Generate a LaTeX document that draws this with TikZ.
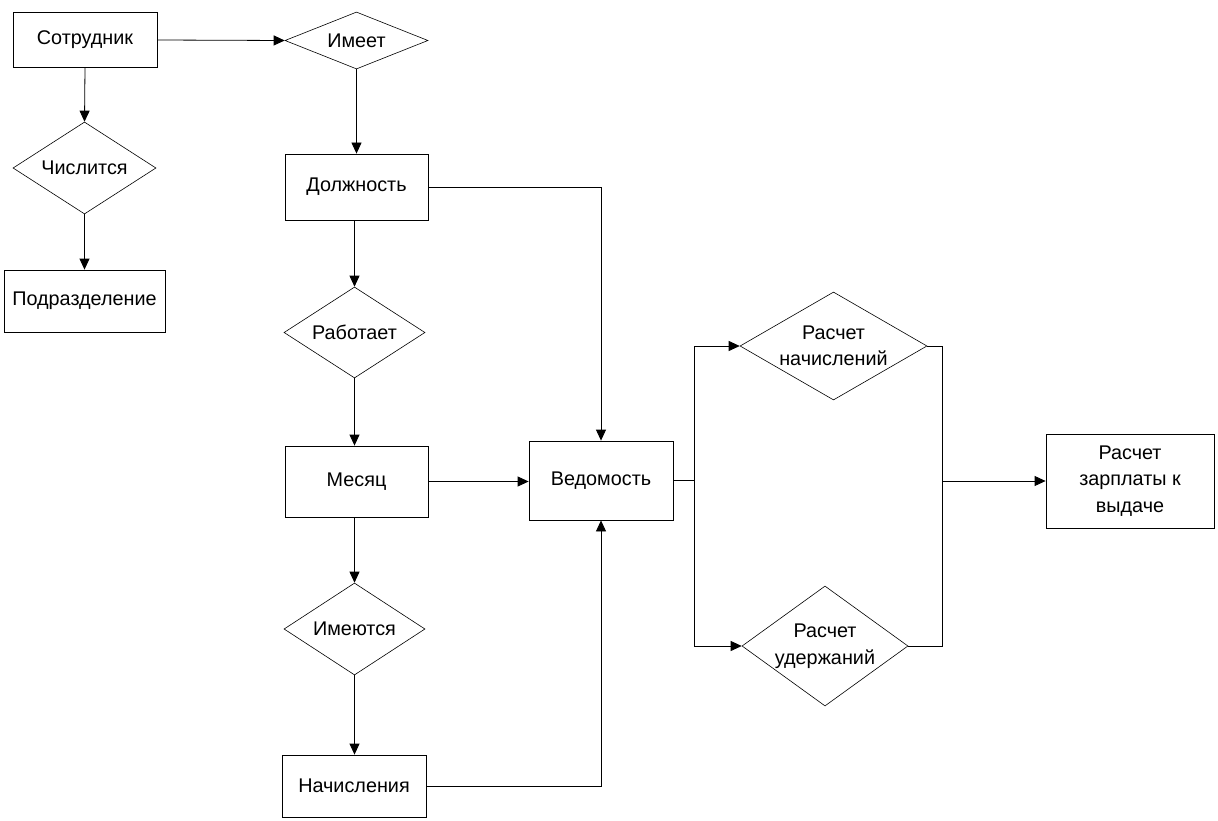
\documentclass[tikz,border=0pt]{standalone}
\usepackage{fontspec}
\setmainfont{Liberation Sans}
\usetikzlibrary{shapes.geometric,arrows.meta}
\begin{document}
\begin{tikzpicture}[x=1pt,y=-1pt,
  every node/.style={font=\fontsize{19.8}{26.5}\selectfont, align=center, inner sep=0pt},
  ent/.style={draw, rectangle, line width=0.8pt},
  rel/.style={draw, diamond, line width=0.6pt, inner sep=-8pt},
  conn/.style={line width=0.8pt},
  arr/.style={conn, -{Triangle[length=11pt,width=10pt]}}]
\useasboundingbox (0,0) rectangle (1218,821);
\node[ent, minimum width=144pt, minimum height=55pt] (sotr) at (85,40) {Сотрудник};
\node[rel, minimum width=143pt, minimum height=57pt, aspect=2.5] (imeet) at (356.5,40.5) {Имеет};
\node[rel, minimum width=143pt, minimum height=92pt, aspect=1.55] (chisl) at (84.5,168) {Числится};
\node[ent, minimum width=161pt, minimum height=62pt] (podr) at (84.5,301) {Подразделение};
\node[ent, minimum width=143pt, minimum height=66pt] (dolzh) at (356.5,187) {Должность};
\node[rel, minimum width=141pt, minimum height=91pt, aspect=1.55] (rabot) at (354.5,332.5) {Работает};
\node[ent, minimum width=143pt, minimum height=71pt] (mes) at (356.5,481.5) {Месяц};
\node[rel, minimum width=141pt, minimum height=92pt, aspect=1.55] (imeyut) at (354.5,629) {Имеются};
\node[ent, minimum width=144pt, minimum height=62pt] (nach) at (354,786) {Начисления};
\node[ent, minimum width=144pt, minimum height=79pt] (ved) at (601,480.5) {Ведомость};
\node[rel, minimum width=187pt, minimum height=108pt, aspect=1.73] (rn) at (833.5,346) {Расчет\\начислений};
\node[rel, minimum width=166pt, minimum height=120pt, aspect=1.38] (ru) at (825,646) {Расчет\\удержаний};
\node[ent, minimum width=168pt, minimum height=94pt] (zp) at (1130,481) {Расчет\\зарплаты к\\выдаче};
\coordinate (s1) at (694,480.5);
\coordinate (s2) at (942,481);
\draw[arr] (sotr.east) -- (imeet.west);
\draw[arr] (sotr.south) -- (chisl.north);
\draw[arr] (chisl.south) -- (podr.north);
\draw[arr] (imeet.south) -- (dolzh.north);
\draw[arr] (dolzh.east) -| (ved.north);
\draw[arr] (dolzh.south -| rabot.north) -- (rabot.north);
\draw[arr] (rabot.south) -- (rabot.south |- mes.north);
\draw[arr] (mes.east) -- (mes.east -| ved.west);
\draw[arr] (mes.south -| imeyut.north) -- (imeyut.north);
\draw[arr] (imeyut.south) -- (imeyut.south |- nach.north);
\draw[arr] (nach.east) -| (ved.south);
\draw[conn] (ved.east) -- (s1);
\draw[arr] (s1) |- (rn.west);
\draw[arr] (s1) |- (ru.west);
\draw[conn] (rn.east) -| (s2);
\draw[conn] (ru.east) -| (s2);
\draw[arr] (s2) -- (zp.west);
\end{tikzpicture}
\end{document}
